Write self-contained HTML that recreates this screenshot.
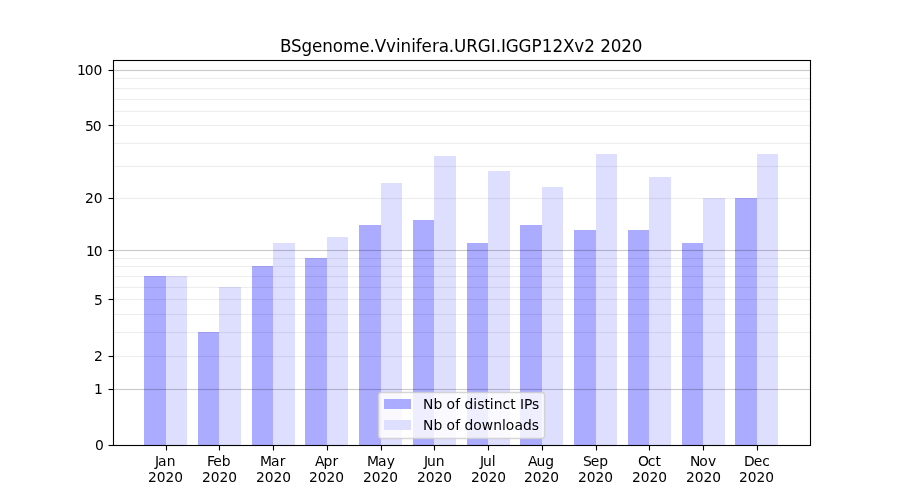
<!DOCTYPE html><html><head><meta charset="utf-8"><title>BSgenome.Vvinifera.URGI.IGGP12Xv2 2020</title><style>
html,body{margin:0;padding:0;background:#fff;width:900px;height:500px;overflow:hidden}
svg{display:block;will-change:transform}text{font-family:"DejaVu Sans","Liberation Sans",sans-serif;fill:#000;font-kerning:none}
</style></head><body>
<svg width="900" height="500" viewBox="0 0 900 500">
<rect x="0" y="0" width="900" height="500" fill="#fff"/>
<rect x="144" y="276" width="22" height="169" fill="#ababff"/>
<rect x="198" y="332" width="21" height="113" fill="#ababff"/>
<rect x="252" y="266" width="21" height="179" fill="#ababff"/>
<rect x="305" y="258" width="22" height="187" fill="#ababff"/>
<rect x="359" y="225" width="22" height="220" fill="#ababff"/>
<rect x="413" y="220" width="21" height="225" fill="#ababff"/>
<rect x="467" y="243" width="21" height="202" fill="#ababff"/>
<rect x="520" y="225" width="22" height="220" fill="#ababff"/>
<rect x="574" y="230" width="22" height="215" fill="#ababff"/>
<rect x="628" y="230" width="21" height="215" fill="#ababff"/>
<rect x="682" y="243" width="21" height="202" fill="#ababff"/>
<rect x="735" y="198" width="22" height="247" fill="#ababff"/>
<rect x="166" y="276" width="21" height="169" fill="#dedeff"/>
<rect x="219" y="287" width="22" height="158" fill="#dedeff"/>
<rect x="273" y="243" width="22" height="202" fill="#dedeff"/>
<rect x="327" y="237" width="21" height="208" fill="#dedeff"/>
<rect x="381" y="183" width="21" height="262" fill="#dedeff"/>
<rect x="434" y="156" width="22" height="289" fill="#dedeff"/>
<rect x="488" y="171" width="22" height="274" fill="#dedeff"/>
<rect x="542" y="187" width="21" height="258" fill="#dedeff"/>
<rect x="596" y="154" width="21" height="291" fill="#dedeff"/>
<rect x="649" y="177" width="22" height="268" fill="#dedeff"/>
<rect x="703" y="198" width="22" height="247" fill="#dedeff"/>
<rect x="757" y="154" width="21" height="291" fill="#dedeff"/>
<rect x="113" y="355.9444" width="697" height="1.1111" fill="#000" fill-opacity="0.07"/>
<rect x="113" y="331.9444" width="697" height="1.1111" fill="#000" fill-opacity="0.07"/>
<rect x="113" y="313.9444" width="697" height="1.1111" fill="#000" fill-opacity="0.07"/>
<rect x="113" y="298.9444" width="697" height="1.1111" fill="#000" fill-opacity="0.07"/>
<rect x="113" y="286.9444" width="697" height="1.1111" fill="#000" fill-opacity="0.07"/>
<rect x="113" y="275.9444" width="697" height="1.1111" fill="#000" fill-opacity="0.07"/>
<rect x="113" y="265.9444" width="697" height="1.1111" fill="#000" fill-opacity="0.07"/>
<rect x="113" y="257.9444" width="697" height="1.1111" fill="#000" fill-opacity="0.07"/>
<rect x="113" y="197.9444" width="697" height="1.1111" fill="#000" fill-opacity="0.07"/>
<rect x="113" y="165.9444" width="697" height="1.1111" fill="#000" fill-opacity="0.07"/>
<rect x="113" y="142.9444" width="697" height="1.1111" fill="#000" fill-opacity="0.07"/>
<rect x="113" y="124.9444" width="697" height="1.1111" fill="#000" fill-opacity="0.07"/>
<rect x="113" y="110.9444" width="697" height="1.1111" fill="#000" fill-opacity="0.07"/>
<rect x="113" y="98.9444" width="697" height="1.1111" fill="#000" fill-opacity="0.07"/>
<rect x="113" y="87.9444" width="697" height="1.1111" fill="#000" fill-opacity="0.07"/>
<rect x="113" y="77.9444" width="697" height="1.1111" fill="#000" fill-opacity="0.07"/>
<rect x="113" y="388.9444" width="697" height="1.1111" fill="#000" fill-opacity="0.21"/>
<rect x="113" y="249.9444" width="697" height="1.1111" fill="#000" fill-opacity="0.21"/>
<rect x="113" y="69.9444" width="697" height="1.1111" fill="#000" fill-opacity="0.21"/>
<rect x="113.5" y="60.5" width="697" height="385" fill="none" stroke="#000" stroke-width="1.111"/>
<line x1="166.5" y1="445" x2="166.5" y2="450.5" stroke="#000" stroke-width="1.111"/>
<line x1="219.5" y1="445" x2="219.5" y2="450.5" stroke="#000" stroke-width="1.111"/>
<line x1="273.5" y1="445" x2="273.5" y2="450.5" stroke="#000" stroke-width="1.111"/>
<line x1="327.5" y1="445" x2="327.5" y2="450.5" stroke="#000" stroke-width="1.111"/>
<line x1="381.5" y1="445" x2="381.5" y2="450.5" stroke="#000" stroke-width="1.111"/>
<line x1="434.5" y1="445" x2="434.5" y2="450.5" stroke="#000" stroke-width="1.111"/>
<line x1="488.5" y1="445" x2="488.5" y2="450.5" stroke="#000" stroke-width="1.111"/>
<line x1="542.5" y1="445" x2="542.5" y2="450.5" stroke="#000" stroke-width="1.111"/>
<line x1="596.5" y1="445" x2="596.5" y2="450.5" stroke="#000" stroke-width="1.111"/>
<line x1="649.5" y1="445" x2="649.5" y2="450.5" stroke="#000" stroke-width="1.111"/>
<line x1="703.5" y1="445" x2="703.5" y2="450.5" stroke="#000" stroke-width="1.111"/>
<line x1="757.5" y1="445" x2="757.5" y2="450.5" stroke="#000" stroke-width="1.111"/>
<line x1="108.5" y1="445.5" x2="113" y2="445.5" stroke="#000" stroke-width="1.111"/>
<line x1="108.5" y1="389.5" x2="113" y2="389.5" stroke="#000" stroke-width="1.111"/>
<line x1="108.5" y1="356.5" x2="113" y2="356.5" stroke="#000" stroke-width="1.111"/>
<line x1="108.5" y1="299.5" x2="113" y2="299.5" stroke="#000" stroke-width="1.111"/>
<line x1="108.5" y1="250.5" x2="113" y2="250.5" stroke="#000" stroke-width="1.111"/>
<line x1="108.5" y1="198.5" x2="113" y2="198.5" stroke="#000" stroke-width="1.111"/>
<line x1="108.5" y1="125.5" x2="113" y2="125.5" stroke="#000" stroke-width="1.111"/>
<line x1="108.5" y1="70.5" x2="113" y2="70.5" stroke="#000" stroke-width="1.111"/>
<text x="94.95" y="449.53" font-size="13.889">0</text>
<text x="93.95" y="393.69" font-size="13.889">1</text>
<text x="93.95" y="360.73" font-size="13.889">2</text>
<text x="93.95" y="304.64" font-size="13.889">5</text>
<text x="86.12 93.70" y="255.62" font-size="13.889">10</text>
<text x="85.12 93.70" y="202.56" font-size="13.889">20</text>
<text x="85.12 92.70" y="130.69" font-size="13.889">50</text>
<text x="77.04 84.87 93.45" y="74.65" font-size="13.889">100</text>
<text x="154.99 158.09 166.84" y="466.03" font-size="13.889">Jan</text>
<text x="148.03 156.85 165.43 174.26" y="481.58" font-size="13.800">2020</text>
<text x="206.89 213.37 221.66" y="466.03" font-size="13.889">Feb</text>
<text x="202.01 210.84 219.42 228.25" y="482.08" font-size="13.800">2020</text>
<text x="260.07 271.04 279.79" y="466.03" font-size="13.889">Mar</text>
<text x="256.00 264.83 273.40 282.23" y="482.08" font-size="13.800">2020</text>
<text x="314.89 323.39 332.44" y="466.03" font-size="13.889">Apr</text>
<text x="308.99 317.81 326.39 335.22" y="481.58" font-size="13.800">2020</text>
<text x="367.04 378.01 386.76" y="466.03" font-size="13.889">May</text>
<text x="362.97 371.80 380.38 389.20" y="481.58" font-size="13.800">2020</text>
<text x="424.03 427.12 435.67" y="466.03" font-size="13.889">Jun</text>
<text x="416.96 425.79 434.61 443.19" y="481.58" font-size="13.800">2020</text>
<text x="479.99 483.08 491.63" y="466.03" font-size="13.889">Jul</text>
<text x="470.94 479.77 488.60 497.18" y="481.58" font-size="13.800">2020</text>
<text x="528.04 536.54 545.33" y="466.03" font-size="13.889">Aug</text>
<text x="523.93 532.76 541.59 550.16" y="481.58" font-size="13.800">2020</text>
<text x="583.00 590.81 599.34" y="466.03" font-size="13.889">Sep</text>
<text x="577.92 586.75 595.57 604.15" y="481.58" font-size="13.800">2020</text>
<text x="638.07 647.74 655.62" y="466.03" font-size="13.889">Oct</text>
<text x="631.90 640.73 649.56 658.14" y="482.08" font-size="13.800">2020</text>
<text x="690.01 699.14 707.88" y="466.03" font-size="13.889">Nov</text>
<text x="685.89 694.72 703.55 712.37" y="482.08" font-size="13.800">2020</text>
<text x="744.11 753.80 762.33" y="466.03" font-size="13.889">Dec</text>
<text x="738.88 747.70 756.53 765.36" y="482.08" font-size="13.800">2020</text>
<text x="280.09 291.00 301.55 312.10 322.33 332.87 343.04 359.23 369.46 374.75 386.12 395.96 400.58 411.36 415.73 421.59 432.06 438.65 448.84 454.12 466.29 477.84 490.72 495.63 500.91 505.81 518.45 531.58 541.86 552.43 563.01 574.15 584.24 591.82 600.35 610.68 621.25 631.83" y="51.67" font-size="16.767">BSgenome.Vvinifera.URGI.IGGP12Xv2 2020</text>
<rect x="378.5" y="392.5" width="166" height="46" rx="2.778" ry="2.778" fill="#fff" fill-opacity="0.8" stroke="#ccc" stroke-opacity="0.8" stroke-width="1.389"/>
<rect x="384" y="399" width="27" height="10" fill="#ababff"/>
<rect x="384" y="420" width="27" height="10" fill="#dedeff"/>
<text x="422.99 433.62 438.68 446.59 455.33 456.47 464.38 473.18 477.29 484.52 489.71 493.81 502.61 510.23 511.92 520.09 523.93 532.04" y="408.73" font-size="13.889">Nb of distinct IPs</text>
<text x="422.99 433.62 438.68 446.59 455.33 456.47 464.38 473.18 481.67 493.27 502.06 505.67 514.41 522.91 531.72" y="429.61" font-size="13.889">Nb of downloads</text>
</svg></body></html>
